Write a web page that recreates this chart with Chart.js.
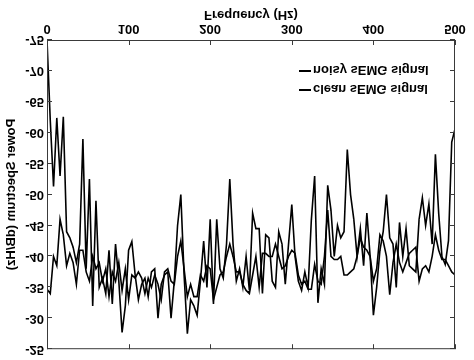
<!DOCTYPE html>
<html>
<head>
<meta charset="utf-8">
<script src="https://cdn.jsdelivr.net/npm/chart.js@4/dist/chart.umd.min.js"></script>
<style>
  html, body { margin: 0; padding: 0; background: #fff; }
  /* the reference picture is mirrored top to bottom, so the whole canvas is flipped */
  #spectrum { display: block; transform: scaleY(-1); }
</style>
</head>
<body>
<canvas id="spectrum" width="474" height="360"></canvas>
<script>
// spectrum estimate, one value every 4 Hz from 0 to 500 Hz (dB/Hz)
const FREQ_STEP = 4;

const noisySemg = [
  -75, -62, -51.3, -62.4, -53, -62.6, -44, -43, -41.5, -39,
  -42, -59, -38, -52.5, -32, -49, -35, -36.5, -34, -41,
  -32.3, -42, -36, -27.7, -32, -41, -42.4, -37, -33, -35.5,
  -36.5, -33.5, -37.5, -38, -30, -35.5, -37, -37.5, -30, -36,
  -45, -50, -37, -27.5, -33, -32, -30.5, -36, -42.5, -35,
  -46, -32.3, -46, -38, -36.5, -42, -52.5, -42, -36, -38,
  -35, -40, -34.5, -47, -44.5, -44.5, -34, -43.5, -43, -36,
  -35, -44, -42, -35.5, -42, -48.4, -40, -36, -34.5, -37.5,
  -35, -46, -53, -32.5, -38, -35.5, -51.5, -47.5, -40, -45,
  -43, -44, -57.3, -50, -46, -40, -44.5, -38.5, -47, -40,
  -30.5, -35, -41, -44, -50, -43, -42, -35, -45.5, -40,
  -44.5, -38.5, -38, -37.5, -46, -49.5, -45, -48.5, -42, -56.5,
  -47, -40, -38.7, -42.5, -58.5, -60.6
];

const cleanSemg = [
  -34.7, -34, -40, -38.5, -46, -43.5, -38.5, -40.5, -39, -35.5,
  -41, -41, -37.5, -36, -40, -38, -39, -36, -38, -33.5,
  -37.5, -36, -39, -34.5, -38, -33, -37, -36.5, -37.5, -36.5,
  -34, -36.5, -35, -37, -35.5, -33, -37.5, -38, -36, -35.5,
  -40, -42.5, -38, -33.5, -35.5, -33.5, -33.5, -37, -36, -38.5,
  -38, -33, -35, -37, -37.5, -40, -42, -40, -37.5, -37.5,
  -35.5, -34.5, -34, -37, -40, -35, -40.5, -40.5, -40, -40,
  -42, -40, -38, -38.5, -40, -41, -40.5, -37, -35.5, -36,
  -34.7, -34.7, -38.7, -36, -35.5, -40, -47.5, -40, -39.5, -39.5,
  -40, -37, -37, -37.5, -38, -40, -43, -41.5, -41, -40,
  -36, -38, -43.5, -42.5, -40, -33.8, -39, -42, -39, -37.5,
  -39, -40.5, -41, -41.5, -36, -38, -38.5, -37.5, -40, -43.5,
  -41, -39.5, -39.5, -38.5, -37.5, -37
];

const xTickValues = [0, 100, 200, 300, 400, 500];
const yTickValues = [-75, -70, -65, -60, -55, -50, -45, -40, -35, -30, -25];

const seriesNames = ['noisy sEMG signal', 'clean sEMG signal'];
const legendOrder = ['clean sEMG signal', 'noisy sEMG signal'];

const FONT = '"Liberation Sans", Arial, Helvetica, sans-serif';

function toPoints(values) {
  return values.map((v, i) => ({ x: i * FREQ_STEP, y: v }));
}

// frame round the plot with the tick marks pointing inwards, like the original figure
const boxTicks = {
  id: 'boxTicks',
  afterDatasetsDraw(chart) {
    let { ctx, chartArea: a, scales: { x, y } } = chart;
    ctx.save();
    ctx.strokeStyle = '#3a3a3a';
    ctx.lineWidth = 1;
    ctx.strokeRect(a.left + 0.5, a.top + 0.5, a.width - 1, a.height - 1);
    ctx.beginPath();
    xTickValues.forEach(v => {
      let px = Math.round(x.getPixelForValue(v)) + 0.5;
      ctx.moveTo(px, a.bottom); ctx.lineTo(px, a.bottom - 5);
      ctx.moveTo(px, a.top); ctx.lineTo(px, a.top + 5);
    });
    yTickValues.forEach(v => {
      let py = Math.round(y.getPixelForValue(v)) + 0.5;
      ctx.moveTo(a.left, py); ctx.lineTo(a.left + 5, py);
      ctx.moveTo(a.right, py); ctx.lineTo(a.right - 5, py);
    });
    ctx.stroke();
    ctx.restore();
  }
};

// small boxed-less legend inside the plot, lower right before the flip
const insideLegend = {
  id: 'insideLegend',
  afterDraw(chart) {
    let { ctx, chartArea: a } = chart;
    ctx.save();
    ctx.font = `bold 13px ${FONT}`;
    ctx.textBaseline = 'middle';
    ctx.fillStyle = '#000';
    legendOrder.forEach((name, row) => {
      let ds = chart.data.datasets.find(d => d.label === name);
      let ly = a.bottom - 50 + row * 19;
      let lx = a.right - 156;
      ctx.strokeStyle = ds.borderColor;
      ctx.lineWidth = 2;
      ctx.beginPath();
      ctx.moveTo(lx, ly); ctx.lineTo(lx + 12, ly);
      ctx.stroke();
      ctx.fillText(name, lx + 14, ly + 1);
    });
    ctx.restore();
  }
};

new Chart(document.getElementById('spectrum'), {
  type: 'line',
  data: {
    datasets: [
      {
        label: seriesNames[0],
        data: toPoints(noisySemg),
        borderColor: '#000',
        borderWidth: 1.6,
        pointRadius: 0,
        fill: false
      },
      {
        label: seriesNames[1],
        data: toPoints(cleanSemg),
        borderColor: '#000',
        borderWidth: 1.6,
        pointRadius: 0,
        fill: false
      }
    ]
  },
  options: {
    responsive: false,
    animation: false,
    devicePixelRatio: 1,
    layout: { padding: { top: 10, right: 19, left: 0, bottom: 0 } },
    plugins: {
      legend: { display: false },
      tooltip: { enabled: false }
    },
    scales: {
      x: {
        type: 'linear',
        min: 0,
        max: 500,
        afterBuildTicks: axis => { axis.ticks = xTickValues.map(v => ({ value: v })); },
        afterFit: axis => { axis.height = 40; },
        border: { display: false },
        grid: { display: false, drawTicks: false },
        ticks: { color: '#000', padding: 4, maxRotation: 0, font: { family: FONT, size: 13, weight: 'bold' } },
        title: {
          display: true,
          text: 'Frequency (Hz)',
          color: '#000',
          padding: { top: 0, bottom: 7 },
          font: { family: FONT, size: 13, weight: 'bold' }
        }
      },
      y: {
        min: -75,
        max: -25,
        afterBuildTicks: axis => { axis.ticks = yTickValues.map(v => ({ value: v })); },
        afterFit: axis => { axis.width = 47; },
        border: { display: false },
        grid: { display: false, drawTicks: false },
        ticks: { color: '#000', padding: 3, font: { family: FONT, size: 13, weight: 'bold' } },
        title: {
          display: true,
          text: 'Power Spectrum (dB/Hz)',
          color: '#000',
          padding: { top: 4, bottom: 0 },
          font: { family: FONT, size: 13, weight: 'bold' }
        }
      }
    }
  },
  plugins: [boxTicks, insideLegend]
});
</script>
</body>
</html>
